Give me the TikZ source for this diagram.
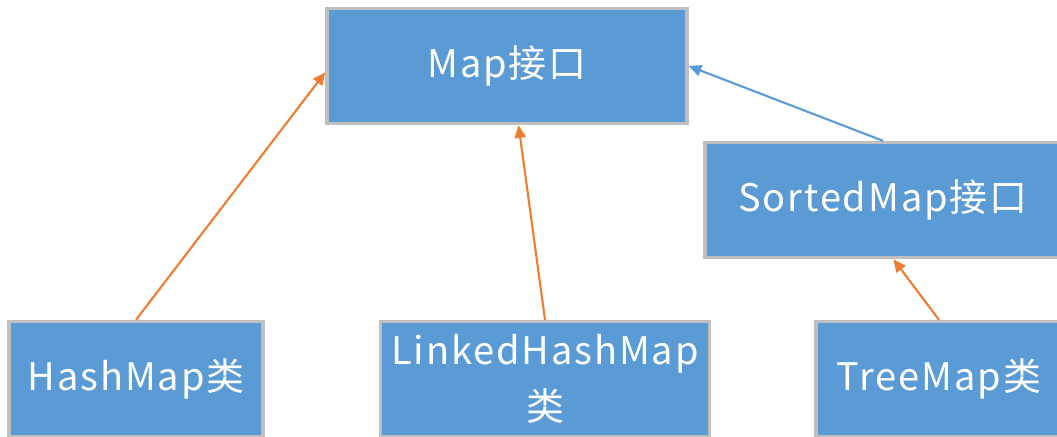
\documentclass[tikz,border=0pt]{standalone}
\usepackage{fontspec}
\setmainfont{Noto Sans CJK SC}[LetterSpace=5]
\usepackage{tikz}
\usetikzlibrary{arrows.meta}

\definecolor{boxblue}{HTML}{5B9BD5}
\definecolor{boxedge}{HTML}{BFBFBF}
\definecolor{linkorange}{HTML}{ED7D31}

\begin{document}
\begin{tikzpicture}[
		mapbox/.style={draw=boxedge, line width=2.4pt, fill=boxblue, text=white,
			inner sep=0pt, align=center, minimum height=2.875cm,
			font=\fontsize{27}{40}\selectfont},
		implarrow/.style={-{Triangle[length=9pt,width=8pt]}, line width=1.5pt, draw=linkorange},
		extarrow/.style={-{Triangle[length=9pt,width=8pt]}, line width=1.5pt, draw=boxblue}]
		\useasboundingbox (0,0) rectangle (26.425,10.9);
		\begin{scope}
			\clip (0,0) rectangle (26.425,10.9);

			% interfaces
			\node[mapbox, minimum width=9cm] (Map) at (12.675,9.25) {Map接口};
			\node[mapbox, minimum width=8.9cm] (SortedMap) at (22.075,5.9) {SortedMap接口};

			% classes
			\node[mapbox, minimum width=6.35cm] (HashMap) at (3.4,1.425) {HashMap类};
			\node[mapbox, minimum width=8.225cm] (LinkedHashMap) at (13.625,1.425) {LinkedHashMap\\类};
			\node[mapbox, minimum width=6.15cm] (TreeMap) at (23.475,1.425) {TreeMap类};

			\draw[implarrow] (HashMap.north) -- (Map.182);
			\draw[implarrow] (LinkedHashMap.north) -- (Map.-79);
			\draw[extarrow] (SortedMap.north) -- (Map.east);
			\draw[implarrow] (TreeMap.north) -- (SortedMap.-80);
		\end{scope}
\end{tikzpicture}
\end{document}
